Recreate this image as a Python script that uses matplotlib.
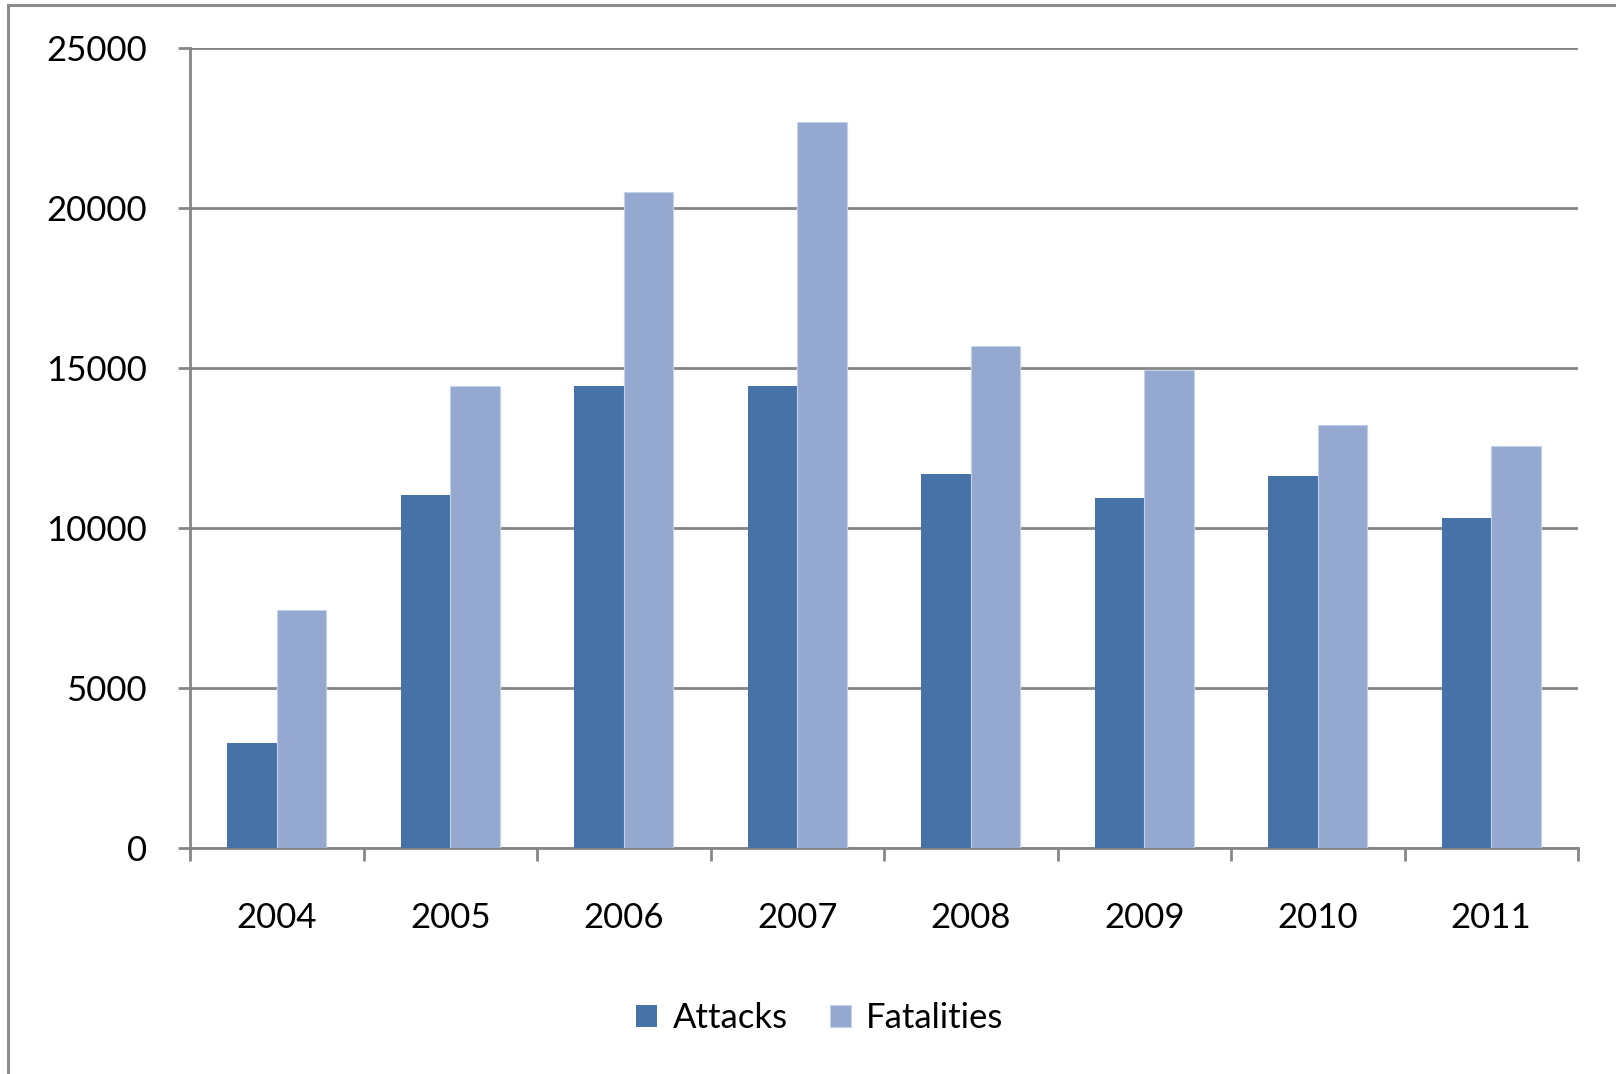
import numpy as np
import matplotlib
matplotlib.use("Agg")
import matplotlib.pyplot as plt
from matplotlib.patches import Rectangle

years = ["2004", "2005", "2006", "2007", "2008", "2009", "2010", "2011"]
attacks = [3280, 11020, 14440, 14440, 11700, 10950, 11620, 10300]
fatalities = [7440, 14450, 20500, 22680, 15680, 14930, 13220, 12560]

plt.rcParams['font.family'] = ['Lato', 'DejaVu Sans']

fig = plt.figure(figsize=(16.16, 10.74), dpi=100)
ax = fig.add_axes([190 / 1616, 1 - 848 / 1074, 1388 / 1616, 800 / 1074])

# outer chart frame (top and left edges visible)
fig.patches.append(Rectangle((8 / 1616, -0.1), 1.2, 1.1 - 5 / 1074,
                             transform=fig.transFigure, fill=False,
                             edgecolor='#8c8c8c', linewidth=2.2, zorder=0))

x = np.arange(len(years))
w = 1 / 3.5
grid_c = '#868686'

ax.bar(x - w / 2, attacks, w, color='#4672a8', label='Attacks', zorder=3)
ax.bar(x + w / 2, fatalities, w, color='#95a9d0', edgecolor='#c3d0ea',
       linewidth=0.8, label='Fatalities', zorder=3)

ax.set_xlim(-0.5, len(years) - 0.5)
ax.set_ylim(0, 25000)
ax.set_yticks(range(0, 25001, 5000))
ax.yaxis.grid(True, color=grid_c, linewidth=2)
ax.set_axisbelow(True)

ax.set_xticks(x)
ax.set_xticklabels(years)
ax.set_xticks(np.arange(-0.5, len(years)), minor=True)
ax.tick_params(axis='x', which='major', length=0, pad=39, labelsize=25)
ax.tick_params(axis='x', which='minor', length=9, width=2, color=grid_c)
ax.tick_params(axis='y', length=9, width=2, color=grid_c, pad=22, labelsize=25)

for s in ['top', 'right']:
    ax.spines[s].set_visible(False)
for s in ['left', 'bottom']:
    ax.spines[s].set_color(grid_c)
    ax.spines[s].set_linewidth(2)

fig.legend(loc='center', bbox_to_anchor=(820 / 1616, 1 - 1018 / 1074), ncol=2,
           frameon=False, fontsize=25, handlelength=0.6, handleheight=0.6,
           handletextpad=0.45, columnspacing=1.2)

plt.savefig("out.png", dpi=100)
plt.close()
